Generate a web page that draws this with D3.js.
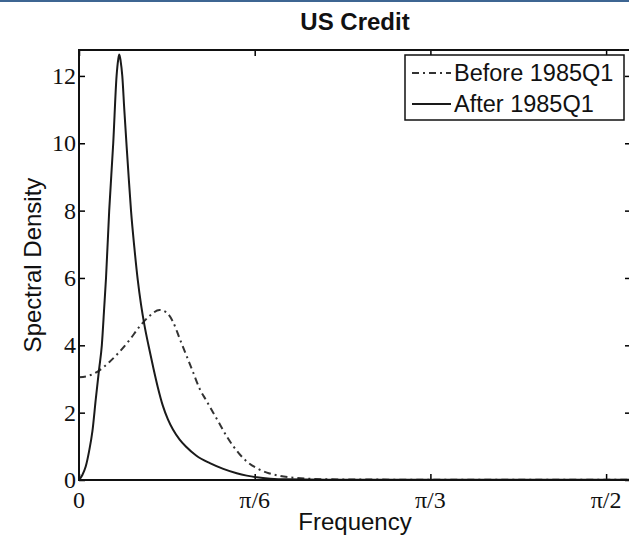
<!DOCTYPE html>
<html><head><meta charset="utf-8">
<script src="https://cdn.jsdelivr.net/npm/d3@7"></script>
<style>body{margin:0;background:#fff;overflow:hidden}</style>
</head><body>
<script>
// Data (frequency in radians, spectral density)
const freqBefore = [0,0.03,0.06,0.09,0.12,0.15,0.18,0.21,0.24,0.26,0.28,0.30,0.32,0.34,0.36,0.38,0.40,0.42,0.44,0.46,0.48,0.50,0.53,0.56,0.60,0.65,0.70,0.80,1.00,1.20,1.40,1.645];
const densBefore = [3.05,3.1,3.25,3.5,3.8,4.15,4.55,4.87,5.05,4.98,4.7,4.2,3.7,3.2,2.7,2.35,2.0,1.65,1.3,1.0,0.75,0.55,0.35,0.22,0.12,0.06,0.03,0.015,0.01,0.01,0.01,0.01];
const freqAfter = [0,0.01,0.02,0.03,0.04,0.05,0.06,0.068,0.075,0.0805,0.09,0.102,0.112,0.117,0.12,0.124,0.129,0.135,0.142,0.148,0.155,0.165,0.175,0.185,0.195,0.207,0.22,0.235,0.25,0.265,0.28,0.30,0.32,0.35,0.39,0.43,0.47,0.50,0.53,0.57,0.62,0.80,1.00,1.30,1.645];
const densAfter = [0,0.15,0.4,0.85,1.45,2.4,3.3,4.0,5.1,6.0,8.0,10.0,12.0,12.5,12.64,12.45,12.0,11.0,9.9,9.0,8.0,6.9,5.95,5.2,4.6,4.0,3.4,2.75,2.2,1.8,1.5,1.2,0.98,0.72,0.5,0.33,0.2,0.13,0.08,0.04,0.02,0.008,0.005,0.005,0.005];
const xTickValues = [0, Math.PI/6, Math.PI/3, Math.PI/2];
const xTickLabels = ["0","\u03C0/6","\u03C0/3","\u03C0/2"];
const yTickValues = [0,2,4,6,8,10,12];
const seriesNames = ["Before 1985Q1","After 1985Q1"];

const W = 629, H = 539;
const svg = d3.select("body").append("svg").attr("width", W).attr("height", H);
svg.append("rect").attr("x",0).attr("y",0).attr("width",W).attr("height",2).attr("fill","#3d6592");

const pLeft = 79, pTop = 50, pRight = 631, pBottom = 480;
const x = d3.scaleLinear().domain([0, 1.645]).range([pLeft, pRight]);
const y = d3.scaleLinear().domain([0, 12.77]).range([pBottom, pTop]);

const g = svg.append("g");
const tickLen = 6;
const xAxisB = d3.axisTop(x).tickValues(xTickValues).tickSize(tickLen).tickFormat("");
const xAxisT = d3.axisBottom(x).tickValues(xTickValues).tickSize(tickLen).tickFormat("");
const yAxisL = d3.axisRight(y).tickValues(yTickValues).tickSize(tickLen).tickFormat("");
const yAxisR = d3.axisLeft(y).tickValues(yTickValues).tickSize(tickLen).tickFormat("");
[[xAxisB,`translate(0,${pBottom})`],[xAxisT,`translate(0,${pTop})`],[yAxisL,`translate(${pLeft},0)`],[yAxisR,`translate(${pRight},0)`]].forEach(([ax,tr])=>{
  const a = g.append("g").attr("transform",tr).call(ax);
  a.select(".domain").remove();
  a.selectAll(".tick line").attr("stroke","#000").attr("stroke-width",1.5);
});

const line = d3.line().x(d=>x(d[0])).y(d=>y(d[1])).curve(d3.curveMonotoneX);
const before = freqBefore.map((f,i)=>[f,densBefore[i]]);
const after = freqAfter.map((f,i)=>[f,densAfter[i]]);
g.append("path").datum(before).attr("d",line).attr("fill","none").attr("stroke","#333").attr("stroke-width",2).attr("stroke-dasharray","7,4,2,4");
g.append("path").datum(after).attr("d",line).attr("fill","none").attr("stroke","#1a1a1a").attr("stroke-width",2);

g.append("rect").attr("x",pLeft).attr("y",pTop).attr("width",pRight-pLeft).attr("height",pBottom-pTop).attr("fill","none").attr("stroke","#111").attr("stroke-width",2);

const serif = "'Liberation Serif','Times New Roman',serif";
const sans = "'Liberation Sans',Arial,sans-serif";
g.selectAll(".xl").data(xTickValues).enter().append("text")
  .attr("x",d=>x(d)).attr("y",508).attr("text-anchor","middle")
  .attr("font-family",serif).attr("font-size",24).attr("fill","#111")
  .text((d,i)=>xTickLabels[i]);
g.selectAll(".yl").data(yTickValues).enter().append("text")
  .attr("x",pLeft-3).attr("y",d=>y(d)).attr("dy","0.34em").attr("text-anchor","end")
  .attr("font-family",serif).attr("font-size",24).attr("fill","#111")
  .text(d=>d);

svg.append("text").attr("x",355).attr("y",30).attr("text-anchor","middle")
  .attr("font-family",sans).attr("font-weight","bold").attr("font-size",24).attr("fill","#111").text("US Credit");
svg.append("text").attr("x",355).attr("y",530).attr("text-anchor","middle")
  .attr("font-family",sans).attr("font-size",24).attr("fill","#111").text("Frequency");
svg.append("text").attr("transform",`translate(41,265) rotate(-90)`).attr("text-anchor","middle")
  .attr("font-family",sans).attr("font-size",24).attr("fill","#111").text("Spectral Density");

const lg = svg.append("g");
lg.append("rect").attr("x",405).attr("y",55).attr("width",219).attr("height",65).attr("fill","#fff").attr("stroke","#111").attr("stroke-width",1.5);
const rows = [73,104];
lg.append("line").attr("x1",412).attr("x2",451).attr("y1",rows[0]).attr("y2",rows[0]).attr("stroke","#333").attr("stroke-width",2).attr("stroke-dasharray","7,4,2,4");
lg.append("line").attr("x1",412).attr("x2",451).attr("y1",rows[1]).attr("y2",rows[1]).attr("stroke","#1a1a1a").attr("stroke-width",2);
seriesNames.forEach((n,i)=>{
  lg.append("text").attr("x",454).attr("y",rows[i]).attr("dy","0.36em")
    .attr("font-family",sans).attr("font-size",23.5).attr("fill","#111").text(n);
});
</script>
</body></html>
